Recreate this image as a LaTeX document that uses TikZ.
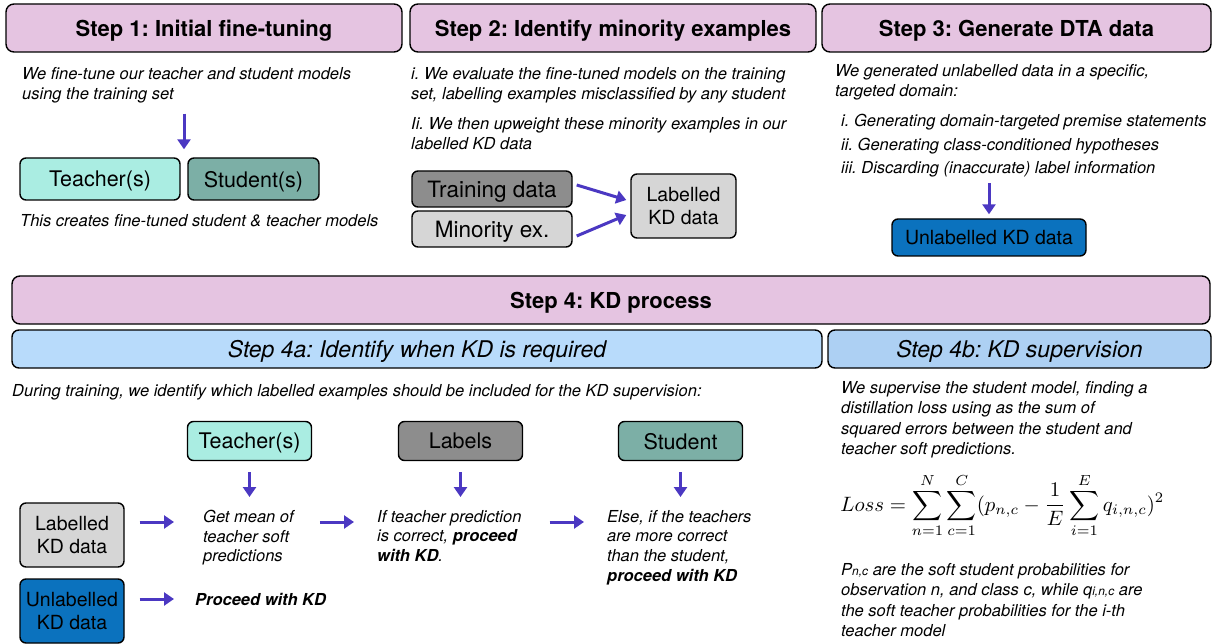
\documentclass[tikz,border=0pt]{standalone}
\usepackage[no-math]{fontspec}
\setmainfont{TeX Gyre Heros}
\usetikzlibrary{arrows.meta,calc}
\definecolor{stepPink}{HTML}{E5C4E1}
\definecolor{teachAqua}{HTML}{AAEDE2}
\definecolor{studTeal}{HTML}{7CAFA6}
\definecolor{darkGrey}{HTML}{8D8D8D}
\definecolor{lightGrey}{HTML}{D6D6D6}
\definecolor{dataBlue}{HTML}{0B72BE}
\definecolor{subBlueA}{HTML}{B8DBFB}
\definecolor{subBlueB}{HTML}{ADD0F3}
\definecolor{flowPurple}{HTML}{4B38C2}
\frenchspacing
\begin{document}
\begin{tikzpicture}[x=1pt,y=-1pt,
  header/.style={draw,line width=1.4pt,rounded corners=8pt,fill=stepPink,minimum height=48pt,inner sep=0pt,text depth=0pt,font=\fontsize{22}{26}\selectfont\bfseries},
  subheader/.style={draw,line width=1.4pt,rounded corners=7pt,minimum height=38pt,inner sep=0pt,text depth=0pt,font=\fontsize{23}{26}\selectfont\itshape},
  box/.style={draw,line width=1.4pt,rounded corners=6pt,inner sep=0pt,align=center,text depth=0pt,font=\fontsize{21.5}{24}\selectfont},
  smallbox/.style={box,font=\fontsize{19.5}{23}\selectfont},
  note/.style={anchor=north west,inner sep=0pt,align=left,font=\fontsize{16.5}{20.5}\selectfont\itshape},
  flow/.style={draw=flowPurple,line width=3pt,-{Triangle[length=10pt,width=13pt]}}]
\useasboundingbox (0,0) rectangle (1226,644);
\node[header,minimum width=396pt] (s1) at (204,28) {Step 1: Initial fine-tuning};
\node[header,minimum width=406pt] (s2) at (613,28) {Step 2: Identify minority examples};
\node[header,minimum width=389pt] (s3) at (1016.5,28) {Step 3: Generate DTA data};
\node[note] (s1txt) at (22,67) {We fine-tune our teacher and student models\\using the training set};
\node[box,fill=teachAqua,minimum width=160pt,minimum height=42pt] (teach1) at (100,179) {Teacher(s)};
\node[box,fill=studTeal,minimum width=131pt,minimum height=42pt] (stud1) at (253.5,179) {Student(s)};
\node[note] (s1cap) at (20,214) {This creates fine-tuned student \& teacher models};
\coordinate (gap1) at ($(teach1.north east)!0.5!(stud1.north west)$);
\draw[flow,shorten <=10pt,shorten >=8pt] (gap1 |- s1txt.south) -- (gap1);
\node[note] (s2txt) at (411,67) {i. We evaluate the fine-tuned models on the training\\set, labelling examples misclassified by any student\\[9pt]Ii. We then upweight these minority examples in our\\labelled KD data};
\node[box,fill=darkGrey,minimum width=160pt,minimum height=36pt,font=\fontsize{22.5}{26}\selectfont] (train) at (492,189) {Training data};
\node[box,fill=lightGrey,minimum width=160pt,minimum height=36pt,font=\fontsize{22.5}{26}\selectfont] (minor) at (492,229) {Minority ex.};
\node[smallbox,fill=lightGrey,minimum width=105pt,minimum height=64pt] (lkd2) at (683.5,206) {Labelled\\KD data};
\draw[flow] ([shift={(4,-4)}]train.east) -- ([shift={(-4,-6)}]lkd2.west);
\draw[flow] ([shift={(4,7)}]minor.east) -- ([shift={(-4,9)}]lkd2.west);
\node[note] (s3txt) at (835,64) {We generated unlabelled data in a specific,\\targeted domain:};
\node[note,font=\fontsize{16.5}{23.5}\selectfont\itshape] (s3list) at (841,114) {i. Generating domain-targeted premise statements\\ii. Generating class-conditioned hypotheses\\iii. Discarding (inaccurate) label information};
\node[smallbox,fill=dataBlue,minimum width=194pt,minimum height=37pt] (ukd3) at (989,237.5) {Unlabelled KD data};
\draw[flow,shorten <=6pt,shorten >=4pt] (ukd3.north |- s3list.south) -- (ukd3.north);
\node[header,minimum width=1198pt] (s4) at (611,300) {Step 4: KD process};
\node[subheader,fill=subBlueA,minimum width=810pt] (s4a) at (417,349) {Step 4a: Identify when KD is required};
\node[subheader,fill=subBlueB,minimum width=383pt] (s4b) at (1019.5,349) {Step 4b: KD supervision};
\node[note] (s4atxt) at (12,384) {During training, we identify which labelled examples should be included for the KD supervision:};
\foreach \name/\x/\col/\txt in {teach4/249.5/teachAqua/Teacher(s),labels/460.5/darkGrey/Labels,stud4/680.5/studTeal/Student}
  \node[box,fill=\col,minimum width=124pt,minimum height=39pt] (\name) at (\x,441) {\txt};
\node[note,font=\fontsize{16.5}{19.7}\selectfont\itshape] (mean) at (203,510) {Get mean of\\teacher soft\\predictions};
\node[note,font=\fontsize{16.5}{19.7}\selectfont\itshape] (correct) at (377,510) {If teacher prediction\\is correct, \textbf{proceed}\\\textbf{with KD}.};
\node[note,font=\fontsize{16.5}{19.7}\selectfont\itshape] (elsetxt) at (607,510) {Else, if the teachers\\are more correct\\than the student,\\\textbf{proceed with KD}};
\node[note] (proceed) at (195,593) {\textbf{Proceed with KD}};
\foreach \name/\txt in {teach4/mean,labels/correct,stud4/elsetxt}
  \draw[flow,shorten <=11pt,shorten >=13pt] (\name.south) -- (\name.south |- \txt.north);
\node[smallbox,fill=lightGrey,minimum width=104pt,minimum height=64pt] (lkd4) at (72,535) {Labelled\\KD data};
\node[smallbox,fill=dataBlue,minimum width=104pt,minimum height=64pt] (ukd4) at (72,611) {Unlabelled\\KD data};
\draw[flow] ([shift={(15,-13)}]lkd4.east) -- ([shift={(-29,12)}]mean.north west);
\draw[flow] ([shift={(26,12)}]mean.north east) -- ([shift={(-23,12)}]correct.north west);
\draw[flow] ([shift={(28,12)}]correct.north east) -- ([shift={(-23,12)}]elsetxt.north west);
\draw[flow] ([shift={(15,-12)}]ukd4.east) -- ([shift={(-21,6)}]proceed.north west);
\node[note] (s4btxt) at (841,381) {We supervise the student model, finding a\\distillation loss using as the sum of\\squared errors between the student and\\teacher soft predictions.};
\node[anchor=base west,inner sep=0pt,scale=2.08,transform shape] (loss) at (840,511) {$\displaystyle Loss=\sum_{n=1}^{N}\sum_{c=1}^{C}(p_{n,c}-\frac{1}{E}\sum_{i=1}^{E}q_{i,n,c})^2$};
\node[note] (s4bdef) at (841,563) {P{\fontsize{12}{14}\selectfont n,c} are the soft student probabilities for\\observation n, and class c, while q{\fontsize{12}{14}\selectfont i,n,c} are\\the soft teacher probabilities for the i-th\\teacher model};
\end{tikzpicture}
\end{document}
